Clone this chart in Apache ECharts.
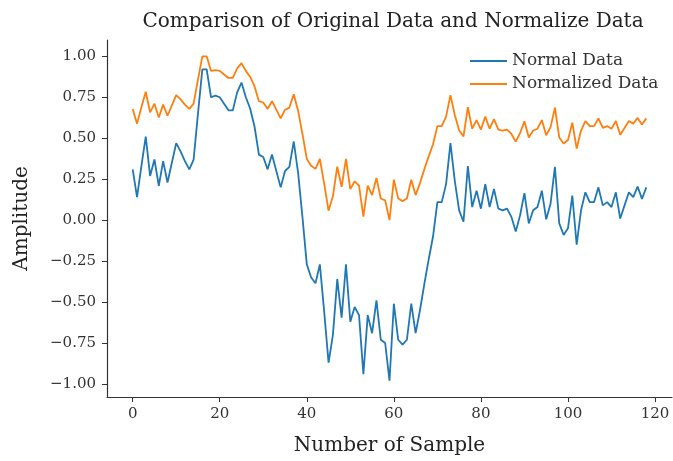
<!DOCTYPE html>
<html>
<head>
<meta charset="utf-8">
<script src="https://cdn.jsdelivr.net/npm/echarts@6/dist/echarts.min.js"></script>
<style>html,body{margin:0;padding:0;background:#fff}#c{width:673px;height:461px}</style>
</head>
<body>
<div id="c"></div>
<script>
const samples = Array.from({length: 119}, (_, i) => i);
const normalData = [
  0.31, 0.14, 0.33, 0.51, 0.27, 0.37, 0.21, 0.36, 0.23, 0.35,
  0.47, 0.42, 0.36, 0.31, 0.37, 0.65, 0.92, 0.92, 0.75, 0.76,
  0.75, 0.71, 0.67, 0.67, 0.78, 0.84, 0.75, 0.68, 0.57, 0.40,
  0.385, 0.31, 0.40, 0.30, 0.20, 0.30, 0.325, 0.48, 0.29, 0.02,
  -0.27, -0.35, -0.385, -0.27, -0.56, -0.87, -0.70, -0.36, -0.595, -0.27,
  -0.62, -0.53, -0.58, -0.94, -0.58, -0.69, -0.49, -0.73, -0.75, -0.98,
  -0.51, -0.73, -0.76, -0.73, -0.51, -0.69, -0.55, -0.39, -0.24, -0.10,
  0.11, 0.11, 0.22, 0.47, 0.24, 0.06, -0.01, 0.33, 0.08, 0.18,
  0.07, 0.22, 0.08, 0.19, 0.07, 0.06, 0.07, 0.02, -0.07, 0.03,
  0.165, -0.02, 0.06, 0.08, 0.18, 0.005, 0.10, 0.325, -0.02, -0.09,
  -0.05, 0.15, -0.15, 0.06, 0.17, 0.11, 0.11, 0.20, 0.09, 0.11,
  0.08, 0.17, 0.01, 0.09, 0.17, 0.14, 0.205, 0.13, 0.20
];
const normalizedData = [
  0.679, 0.589, 0.689, 0.784, 0.658, 0.711, 0.626, 0.705, 0.637, 0.700,
  0.763, 0.737, 0.705, 0.679, 0.711, 0.858, 1.000, 1.000, 0.911, 0.916,
  0.911, 0.889, 0.868, 0.868, 0.926, 0.958, 0.911, 0.874, 0.816, 0.726,
  0.718, 0.679, 0.726, 0.674, 0.621, 0.674, 0.687, 0.768, 0.668, 0.526,
  0.374, 0.332, 0.313, 0.374, 0.221, 0.058, 0.147, 0.326, 0.203, 0.374,
  0.189, 0.237, 0.211, 0.021, 0.211, 0.153, 0.258, 0.132, 0.121, 0.000,
  0.247, 0.132, 0.116, 0.132, 0.247, 0.153, 0.226, 0.311, 0.389, 0.463,
  0.574, 0.574, 0.632, 0.763, 0.642, 0.547, 0.511, 0.689, 0.558, 0.611,
  0.553, 0.632, 0.558, 0.616, 0.553, 0.547, 0.553, 0.526, 0.479, 0.532,
  0.603, 0.505, 0.547, 0.558, 0.611, 0.518, 0.568, 0.687, 0.505, 0.468,
  0.489, 0.595, 0.437, 0.547, 0.605, 0.574, 0.574, 0.621, 0.563, 0.574,
  0.558, 0.605, 0.521, 0.563, 0.605, 0.589, 0.624, 0.584, 0.621
];
const xTicks = [0, 20, 40, 60, 80, 100, 120];
const yTicks = [-1.0, -0.75, -0.5, -0.25, 0.0, 0.25, 0.5, 0.75, 1.0];

const FONT = 'DejaVu Serif';
const chart = echarts.init(document.getElementById('c'), null, {renderer: 'canvas'});
const fmtY = v => (v < 0 ? '\u2212' : '') + Math.abs(v).toFixed(2);
chart.setOption({
  animation: false,
  backgroundColor: '#fff',
  title: {
    text: 'Comparison of Original Data and Normalize Data',
    left: 388, top: 7, textAlign: 'center',
    textStyle: {fontFamily: FONT, fontSize: 20, fontWeight: 'normal', color: '#222'}
  },
  legend: {
    orient: 'vertical', left: 465, top: 47,
    icon: 'rect', itemWidth: 37, itemHeight: 2, itemGap: 5,
    textStyle: {fontFamily: FONT, fontSize: 17, color: '#333', lineHeight: 18},
    data: ['Normal Data', 'Normalized Data']
  },
  grid: {left: 107, right: 1, top: 40, bottom: 58},
  xAxis: {
    type: 'value', min: -5.9, max: 123.9,
    name: 'Number of Sample', nameLocation: 'middle', nameGap: 39,
    nameTextStyle: {fontFamily: FONT, fontSize: 20, color: '#222'},
    axisLine: {show: true, onZero: false, lineStyle: {color: '#333', width: 1.2}},
    axisTick: {show: true, length: 5, customValues: xTicks, lineStyle: {color: '#333'}},
    axisLabel: {customValues: xTicks, fontFamily: FONT, fontSize: 15, color: '#333', margin: 10},
    splitLine: {show: false}
  },
  yAxis: {
    type: 'value', min: -1.0795, max: 1.0995,
    name: 'Amplitude', nameLocation: 'middle', nameGap: 75, nameRotate: 90,
    nameTextStyle: {fontFamily: FONT, fontSize: 20, color: '#222'},
    axisLine: {show: true, onZero: false, lineStyle: {color: '#333', width: 1.2}},
    axisTick: {show: true, length: 5, customValues: yTicks, lineStyle: {color: '#333'}},
    axisLabel: {customValues: yTicks, formatter: fmtY, fontFamily: FONT, fontSize: 15, color: '#333', margin: 11},
    splitLine: {show: false}
  },
  series: [
    {
      name: 'Normal Data', type: 'line', showSymbol: false, symbol: 'none',
      data: samples.map((x, i) => [x, normalData[i]]),
      lineStyle: {color: '#1f77b4', width: 1.8}, itemStyle: {color: '#1f77b4'}
    },
    {
      name: 'Normalized Data', type: 'line', showSymbol: false, symbol: 'none',
      data: samples.map((x, i) => [x, normalizedData[i]]),
      lineStyle: {color: '#ff7f0e', width: 1.8}, itemStyle: {color: '#ff7f0e'}
    }
  ]
});
</script>
</body>
</html>
